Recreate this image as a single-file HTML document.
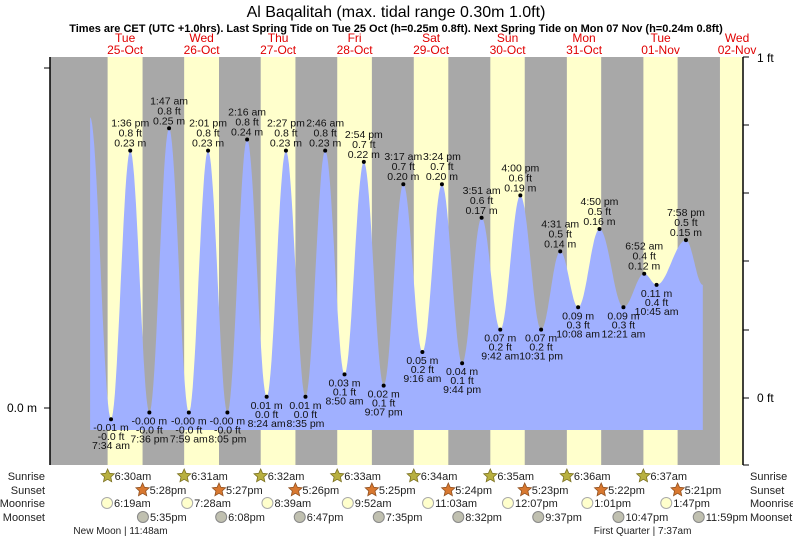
<!DOCTYPE html>
<html><head><meta charset="utf-8"><style>
html,body{margin:0;padding:0;background:#fff;}
svg{display:block;font-family:"Liberation Sans",sans-serif;}
</style></head><body>
<svg id="chart" width="793" height="539" viewBox="0 0 793 539" xmlns="http://www.w3.org/2000/svg">
<text x="396" y="17" text-anchor="middle" font-size="16" fill="#000">Al Baqalitah (max. tidal range 0.30m 1.0ft)</text>
<text x="396" y="32" text-anchor="middle" font-size="11" font-weight="bold" fill="#000">Times are CET (UTC +1.0hrs). Last Spring Tide on Tue 25 Oct (h=0.25m 0.8ft). Next Spring Tide on Mon 07 Nov (h=0.24m 0.8ft)</text>
<g id="bg"></g><g id="fill"></g><g id="labels"></g><g id="axes"></g><g id="bottom"></g>
</svg>
<script>
// ---- data ----
const dayNames = ["Tue","Wed","Thu","Fri","Sat","Sun","Mon","Tue","Wed"];
const dayDates = ["25-Oct","26-Oct","27-Oct","28-Oct","29-Oct","30-Oct","31-Oct","01-Nov","02-Nov"];
const sunriseTimes = ["6:30am","6:31am","6:32am","6:33am","6:34am","6:35am","6:36am","6:37am","6:38am"];
const sunsetTimes = ["5:28pm","5:27pm","5:26pm","5:25pm","5:24pm","5:23pm","5:22pm","5:21pm","5:20pm"];
const moonriseTimes = ["6:19am","7:28am","8:39am","9:52am","11:03am","12:07pm","1:01pm","1:47pm"];
const moonsetTimes = ["5:35pm","6:08pm","6:47pm","7:35pm","8:32pm","9:37pm","10:47pm","11:59pm"];
// tide extremes: day index (0 = 25 Oct), time label, height (m), ft label
const tideDays = [0,0,0,0,1,1,1,1,2,2,2,2,3,3,3,3,4,4,4,4,5,5,5,5,6,6,6,7,7,7];
const tideTimes = ["1:00 am","7:34 am","1:36 pm","7:36 pm","1:47 am","7:59 am","2:01 pm","8:05 pm","2:16 am","8:24 am","2:27 pm","8:35 pm","2:46 am","8:50 am","2:54 pm","9:07 pm","3:17 am","9:16 am","3:24 pm","9:44 pm","3:51 am","9:42 am","4:00 pm","10:31 pm","4:31 am","10:08 am","4:50 pm","12:21 am","6:52 am","10:45 am"];
const tideHeights = [0.26,-0.01,0.23,-0.004,0.25,-0.004,0.23,-0.004,0.24,0.01,0.23,0.01,0.23,0.03,0.22,0.02,0.20,0.05,0.20,0.04,0.17,0.07,0.19,0.07,0.14,0.09,0.16,0.09,0.12,0.11];
const tideHeightLabels = ["","-0.01","0.23","-0.00","0.25","-0.00","0.23","-0.00","0.24","0.01","0.23","0.01","0.23","0.03","0.22","0.02","0.20","0.05","0.20","0.04","0.17","0.07","0.19","0.07","0.14","0.09","0.16","0.09","0.12","0.11"];
const tideFtLabels = ["","-0.0","0.8","-0.0","0.8","-0.0","0.8","-0.0","0.8","0.0","0.8","0.0","0.8","0.1","0.7","0.1","0.7","0.2","0.7","0.1","0.6","0.2","0.6","0.2","0.5","0.3","0.5","0.3","0.4","0.4"];
const extraDays = [7,8];
const extraTimes = ["7:58 pm","1:15 am"];
const extraHeights = [0.15,0.11];
const extraHeightLabels = ["0.15",""];
const extraFtLabels = ["0.5",""];
const moonPhases = ["New Moon | 11:48am","First Quarter | 7:37am"];
const moonPhaseDays = [0,7];
const moonPhaseTimes = ["11:48am","7:37am"];
const yTicksFt = [57,125,193,261,330,398,465];

// ---- scales ----
const X0=86.9, PXH=3.187, Y0=408, PXM=1119;
const xS = t => X0 + t*PXH;
const yS = h => Y0 - h*PXM;
function parseT(s){const m=s.match(/(\d+):(\d+)\s*(am|pm)/);let h=+m[1]%12;if(m[3]=="pm")h+=12;return h+ +m[2]/60;}
const NS="http://www.w3.org/2000/svg";
function mk(tag,attrs,parent,text){const e=document.createElementNS(NS,tag);for(const k in attrs)e.setAttribute(k,attrs[k]);if(text!==undefined)e.textContent=text;parent.appendChild(e);return e;}
const bg=document.getElementById('bg'),fillG=document.getElementById('fill'),lab=document.getElementById('labels'),ax=document.getElementById('axes'),bot=document.getElementById('bottom');
const PL=50,PR=743,PT=57,PB=465;

// background
let r=mk('rect',{x:PL,y:PT,width:PR-PL,height:PB-PT,fill:'#a8a8a8'},bg);


for(let i=0;i<9;i++){
  const a=xS(i*24+parseT(sunriseTimes[i])), b=Math.min(PR,xS(i*24+parseT(sunsetTimes[i])));
  const d=mk('rect',{x:a,y:PT,width:Math.max(0,b-a),height:PB-PT,fill:'#ffffcc'},bg);
  
  
  const c=xS(i*24+12);
  const t1=mk('text',{x:c,y:42,'text-anchor':'middle','font-size':12,fill:'#e00000'},bg,dayNames[i]);
  
  
  const t2=mk('text',{x:c,y:54,'text-anchor':'middle','font-size':12,fill:'#e00000'},bg,dayDates[i]);
  
  
}

// tide points
const pts=[];
for(let i=0;i<tideDays.length;i++)pts.push({t:tideDays[i]*24+parseT(tideTimes[i]),h:tideHeights[i],time:tideTimes[i],hl:tideHeightLabels[i],fl:tideFtLabels[i]});
for(let i=0;i<extraDays.length;i++)pts.push({t:extraDays[i]*24+parseT(extraTimes[i]),h:extraHeights[i],time:extraTimes[i],hl:extraHeightLabels[i],fl:extraFtLabels[i]});
pts.sort((a,b)=>a.t-b.t);
let d='M'+xS(pts[0].t).toFixed(1)+' 430 ';
for(let i=0;i<pts.length-1;i++){
  const p=pts[i],q=pts[i+1];
  for(let k=0;k<=20;k++){const f=k/20,t=p.t+(q.t-p.t)*f,h=p.h+(q.h-p.h)*(1-Math.cos(Math.PI*f))/2;d+='L'+xS(t).toFixed(1)+' '+yS(h).toFixed(1)+' ';}
}
d+='L'+xS(pts[pts.length-1].t).toFixed(1)+' 430 Z';
const area=mk('path',{d:d,fill:'#a0b0ff'},fillG);



for(let i=0;i<pts.length;i++){
  const p=pts[i]; if(!p.hl)continue;
  const x=xS(p.t),y=yS(p.h);
  const prev=pts[i-1],next=pts[i+1];
  const high=(!prev||p.h>prev.h)&&(!next||p.h>next.h);
  const dot=mk('circle',{cx:x,cy:y,r:2,fill:'#000'},lab);
  
  
  const g=mk('g',{'font-size':10.5,'text-anchor':'middle',fill:'#111'},lab);
  
  
  if(high){
    mk('text',{x:x,y:y-24},g,p.time);mk('text',{x:x,y:y-14},g,p.fl+' ft');mk('text',{x:x,y:y-4},g,p.hl+' m');
  }else{
    mk('text',{x:x,y:y+12},g,p.hl+' m');mk('text',{x:x,y:y+21},g,p.fl+' ft');mk('text',{x:x,y:y+30},g,p.time);
  }
}

// axes
let l=mk('line',{x1:PL,y1:PT,x2:PL,y2:PB,stroke:'#000','stroke-width':1.5},ax);


mk('line',{x1:PL-6,y1:68,x2:PL,y2:68,stroke:'#000'},ax);
mk('line',{x1:PL-6,y1:408,x2:PL,y2:408,stroke:'#000'},ax);
let tl=mk('text',{x:37,y:412,'text-anchor':'end','font-size':12},ax,'0.0 m');


l=mk('line',{x1:PR,y1:PT,x2:PR,y2:PB,stroke:'#000','stroke-width':1.5},ax);


for(const y of yTicksFt)mk('line',{x1:PR,y1:y,x2:PR+6,y2:y,stroke:'#000'},ax);
tl=mk('text',{x:757,y:62,'font-size':12},ax,'1 ft');


tl=mk('text',{x:757,y:402,'font-size':12},ax,'0 ft');



// bottom rows
const rows=[["Sunrise",480],["Sunset",494],["Moonrise",507],["Moonset",521]];
for(const [n,y] of rows){
  let a=mk('text',{x:45,y:y,'text-anchor':'end','font-size':11,fill:'#222'},bot,n);
  
  
  a=mk('text',{x:750,y:y,'font-size':11,fill:'#222'},bot,n);
  
  
}
function star(cx,cy){let s='';for(let k=0;k<10;k++){const ang=-Math.PI/2+k*Math.PI/5,rr=k%2?3.3:7;s+=(cx+rr*Math.cos(ang)).toFixed(1)+','+(cy+rr*Math.sin(ang)).toFixed(1)+' ';}return s;}
for(let i=0;i<8;i++){
  let x=xS(i*24+parseT(sunriseTimes[i]));
  let s=mk('polygon',{points:star(x,476),fill:'#b8b040',stroke:'#7a7020','stroke-width':0.8},bot);
  
  
  mk('text',{x:x+7,y:480,'font-size':11,fill:'#222'},bot,sunriseTimes[i]);
  x=xS(i*24+parseT(sunsetTimes[i]));
  s=mk('polygon',{points:star(x,490),fill:'#d87830',stroke:'#905020','stroke-width':0.8},bot);
  
  
  mk('text',{x:x+7,y:494,'font-size':11,fill:'#222'},bot,sunsetTimes[i]);
  x=xS(i*24+parseT(moonriseTimes[i]));
  s=mk('circle',{cx:x,cy:503,r:5.5,fill:'#ffffcc',stroke:'#aaa'},bot);
  
  
  mk('text',{x:x+7,y:507,'font-size':11,fill:'#222'},bot,moonriseTimes[i]);
  x=xS(i*24+parseT(moonsetTimes[i]));
  s=mk('circle',{cx:x,cy:517,r:5.5,fill:'#c0c0b0',stroke:'#888'},bot);
  
  
  mk('text',{x:x+7,y:521,'font-size':11,fill:'#222'},bot,moonsetTimes[i]);
}
for(let i=0;i<moonPhases.length;i++){
  const x=xS(moonPhaseDays[i]*24+parseT(moonPhaseTimes[i]));
  const t=mk('text',{x:x-4,y:534,'text-anchor':'middle','font-size':10,fill:'#222'},bot,moonPhases[i]);
  
  
}
</script>
</body></html>
